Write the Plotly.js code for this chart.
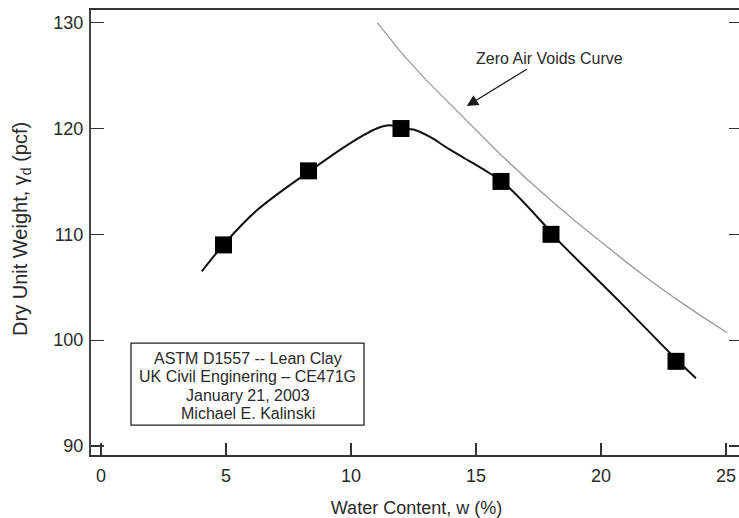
<!DOCTYPE html>
<html>
<head>
<meta charset="utf-8">
<script src="https://cdn.plot.ly/plotly-3.0.1.min.js"></script>
<style>
html,body{margin:0;padding:0;overflow:hidden;background:#fff;width:739px;height:518px;}
#chart{width:752px;height:518px;}
</style>
</head>
<body>
<div id="chart"></div>
<script>
// Measured compaction test points
var testWater = [4.9, 8.3, 12.0, 16.0, 18.0, 23.0];
var testDryUnitWeight = [109, 116, 120, 115, 110, 98];

// Hand-fitted compaction curve
var fitWater = [4.03, 4.93, 6.2, 8.36, 9.96, 11.03, 11.56, 12.05, 12.5, 13.16, 13.96, 14.9, 15.56, 16.05, 17.7, 18.05, 20.76, 23.05, 23.8];
var fitDryUnitWeight = [106.5, 109.1, 112.2, 116.0, 118.6, 120.0, 120.3, 120.0, 119.9, 119.2, 118.0, 116.7, 115.75, 115.0, 111.0, 110.0, 103.6, 98.1, 96.4];

// Zero air voids curve
var zavWater = [11.05, 12, 13, 14, 15, 16, 17, 18, 19, 20, 21, 22, 23, 24, 25.05];
var zavDryUnitWeight = [130.0, 127.2, 124.6, 122.2, 119.8, 117.5, 115.3, 113.2, 111.2, 109.3, 107.4, 105.6, 103.9, 102.3, 100.7];

var xTicks = [0, 5, 10, 15, 20, 25];
var yTicks = [90, 100, 110, 120, 130];

var infoLines = ["ASTM D1557 -- Lean Clay", "UK Civil Enginering \u2013 CE471G", "January 21, 2003", "Michael E. Kalinski"];
var infoY = [98.25, 96.53, 94.8, 93.07];

var FONT = "Liberation Sans, Arial, sans-serif";
var TXT = "#2a2a2a";

var traces = [
  {x: zavWater, y: zavDryUnitWeight, mode: "lines", type: "scatter",
   line: {color: "#9a9a9a", width: 1.3}, hoverinfo: "skip", showlegend: false},
  {x: fitWater, y: fitDryUnitWeight, mode: "lines", type: "scatter",
   line: {color: "#111", width: 2, shape: "spline", smoothing: 1}, showlegend: false},
  {x: testWater, y: testDryUnitWeight, mode: "markers", type: "scatter",
   marker: {symbol: "square", size: 17, color: "#000"}, showlegend: false}
];

var annotations = infoLines.map(function(t, i){
  return {x: 5.87, y: infoY[i], xref: "x", yref: "y", text: t, showarrow: false,
    xanchor: "center", yanchor: "middle", font: {family: FONT, size: 16, color: TXT}};
});
annotations.push({x: 17.95, y: 126.66, xref: "x", yref: "y", text: "Zero Air Voids Curve",
  showarrow: false, xanchor: "center", yanchor: "middle", font: {family: FONT, size: 16, color: TXT}});
annotations.push({x: 14.63, y: 122.12, xref: "x", yref: "y", ax: 17.09, ay: 125.69, axref: "x", ayref: "y",
  text: "", showarrow: true, arrowhead: 2, arrowsize: 1.9, arrowwidth: 1.2, arrowcolor: "#1a1a1a"});
annotations.push({x: -0.106, y: 0.508, xref: "paper", yref: "paper", text: "Dry Unit Weight, \u03b3<sub>d</sub> (pcf)",
  textangle: -90, showarrow: false, xanchor: "center", yanchor: "middle",
  font: {family: FONT, size: 20, color: TXT}});

var layout = {
  width: 752, height: 518,
  margin: {l: 91, r: 10, t: 10, b: 63},
  paper_bgcolor: "#fff", plot_bgcolor: "#fff",
  font: {family: FONT, size: 18, color: TXT},
  xaxis: {range: [-0.4, 25.64], tickvals: xTicks, ticks: "inside", ticklen: 12, tickwidth: 1.3,
    tickcolor: "#333", showline: true, linecolor: "#333", linewidth: 2, mirror: true,
    showgrid: false, zeroline: false, ticklabelstandoff: 3, tickfont: {family: FONT, size: 18, color: TXT},
    title: {text: "Water Content, w (%)", font: {family: FONT, size: 18, color: TXT}, standoff: 22}},
  yaxis: {range: [89.15, 131.2], tickvals: yTicks, ticks: "inside", ticklen: 13, tickwidth: 1.3,
    tickcolor: "#333", showline: true, linecolor: "#444", linewidth: 2, mirror: "ticks",
    showgrid: false, zeroline: false, ticklabelstandoff: 2, tickfont: {family: FONT, size: 18, color: TXT}},
  shapes: [{type: "rect", xref: "x", yref: "y", x0: 1.2, x1: 10.52, y0: 91.97, y1: 99.73,
    line: {color: "#222", width: 1.3}, fillcolor: "rgba(0,0,0,0)"}],
  annotations: annotations
};

Plotly.newPlot("chart", traces, layout, {displayModeBar: false, staticPlot: true});
</script>
</body>
</html>
